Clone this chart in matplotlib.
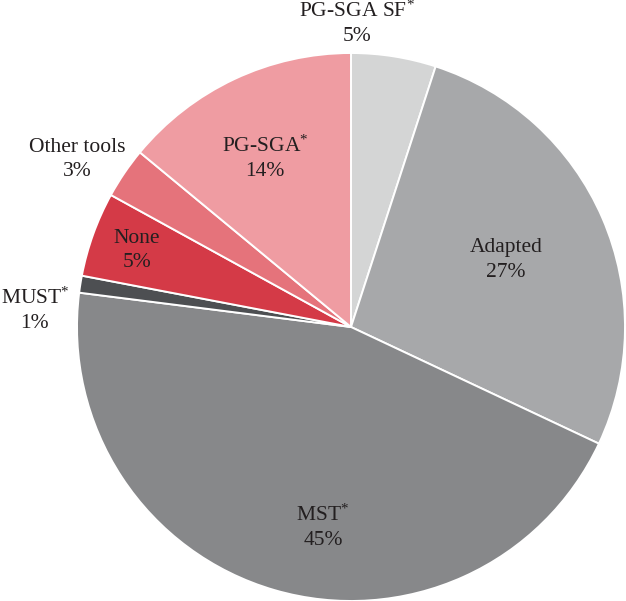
import numpy as np
import matplotlib
matplotlib.use("Agg")
import matplotlib.pyplot as plt

plt.rcParams['font.family'] = ['Liberation Serif', 'DejaVu Serif']
plt.rcParams['mathtext.fontset'] = 'custom'
plt.rcParams['mathtext.rm'] = 'Liberation Serif'
plt.rcParams['mathtext.it'] = 'Liberation Serif'

# data (clockwise from the top)
labels = [r"PG-SGA SF$^{*}$", "Adapted", r"MST$^{*}$", r"MUST$^{*}$", "None", "Other tools", r"PG-SGA$^{*}$"]
values = [5, 27, 45, 1, 5, 3, 14]
colors = ["#d4d5d5", "#a7a8aa", "#87888a", "#4d4f52", "#d43a47", "#e5737b", "#ef9ca2"]

# label placement: (radius, angle in degrees)
label_pos = [(1.11, 88.9), (0.617, 23.4), (0.737, -98.0), (1.155, 177.0),
             (0.83, 160.3), (1.17, 148.5), (0.69, 117.0)]

fig = plt.figure(figsize=(6.26, 6.01), dpi=100)
ax = fig.add_axes([0, 0, 1, 1])

wedges, _ = ax.pie(values, colors=colors, startangle=90, counterclock=False,
                   radius=1.0, wedgeprops=dict(edgecolor="white", linewidth=1.4))

for lab, v, (r, a) in zip(labels, values, label_pos):
    x = r * np.cos(np.radians(a))
    y = r * np.sin(np.radians(a))
    ax.text(x, y, lab + "\n" + str(v) + "%", ha="center", va="center",
            fontsize=15.5, color="#231f20", linespacing=1.38)

ax.set_xlim(-351 / 274, 275 / 274)
ax.set_ylim(-274 / 274, 327 / 274)
ax.set_aspect("auto")
ax.axis("off")

plt.savefig("out.png", dpi=100)
